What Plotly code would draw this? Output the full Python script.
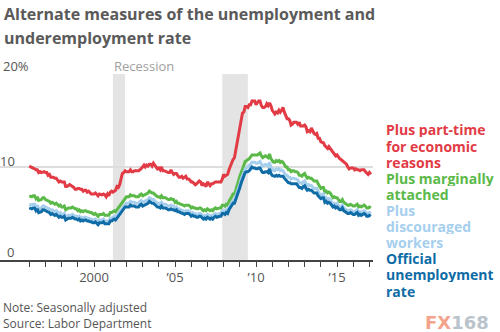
import pandas as pd
import plotly.graph_objects as go

# Monthly data, Jan 1996 - Feb 2017 (percent)
u6_part_time = [
    10.1, 10.0, 9.9, 9.8, 9.8, 9.7, 9.7, 9.4, 9.5, 9.4, 9.5, 9.5,
    9.4, 9.4, 9.1, 9.2, 8.9, 8.9, 8.9, 8.8, 8.8, 8.6, 8.4, 8.5,
    8.4, 8.4, 8.4, 7.9, 7.9, 8.0, 8.1, 8.0, 7.9, 7.8, 7.6, 7.6,
    7.7, 7.7, 7.6, 7.6, 7.4, 7.5, 7.5, 7.3, 7.4, 7.2, 7.1, 7.1,
    7.1, 7.2, 7.1, 6.9, 7.1, 7.0, 7.0, 7.1, 7.0, 6.8, 7.1, 6.9,
    7.3, 7.4, 7.3, 7.4, 7.5, 7.9, 7.8, 8.1, 8.7, 9.3, 9.4, 9.6,
    9.5, 9.5, 9.5, 9.7, 9.5, 9.5, 9.6, 9.6, 9.6, 9.6, 9.7, 9.8,
    10.0, 10.2, 10.0, 10.2, 10.1, 10.3, 10.3, 10.1, 10.4, 10.2, 10.0, 9.8,
    9.9, 9.7, 10.0, 9.6, 9.6, 9.5, 9.5, 9.4, 9.4, 9.7, 9.4, 9.2,
    9.3, 9.3, 9.1, 8.9, 8.9, 9.0, 8.8, 8.9, 9.0, 8.7, 8.7, 8.6,
    8.4, 8.4, 8.2, 8.1, 8.2, 8.4, 8.5, 8.4, 8.0, 8.2, 8.1, 7.9,
    8.4, 8.2, 8.0, 8.2, 8.2, 8.3, 8.4, 8.4, 8.4, 8.4, 8.4, 8.7,
    9.2, 9.0, 9.1, 9.2, 9.7, 10.1, 10.5, 10.8, 11.0, 11.8, 12.6, 13.6,
    14.2, 15.2, 15.8, 15.9, 16.5, 16.5, 16.4, 16.7, 16.7, 17.1, 17.1, 17.1,
    16.7, 17.0, 17.1, 17.1, 16.6, 16.4, 16.4, 16.5, 16.8, 16.6, 16.9, 16.6,
    16.1, 15.9, 15.7, 15.9, 15.8, 16.1, 15.9, 16.1, 16.4, 15.9, 15.5, 15.2,
    15.2, 15.0, 14.5, 14.6, 14.8, 14.8, 14.8, 14.6, 14.8, 14.4, 14.4, 14.4,
    14.5, 14.3, 13.8, 13.9, 13.8, 14.2, 13.9, 13.6, 13.5, 13.6, 13.1, 13.1,
    12.7, 12.6, 12.6, 12.3, 12.1, 12.0, 12.2, 12.0, 11.7, 11.5, 11.4, 11.2,
    11.3, 11.0, 10.9, 10.8, 10.7, 10.5, 10.4, 10.3, 10.0, 9.8, 9.9, 9.9,
    9.9, 9.7, 9.8, 9.7, 9.7, 9.6, 9.7, 9.7, 9.7, 9.5, 9.3, 9.2,
    9.4, 9.2,
]

u5_marginally = [
    6.9, 6.8, 6.8, 6.9, 6.9, 6.6, 6.8, 6.4, 6.5, 6.5, 6.7, 6.7,
    6.5, 6.4, 6.4, 6.3, 6.1, 6.2, 6.1, 6.0, 6.1, 5.9, 5.8, 5.9,
    5.7, 5.7, 5.8, 5.4, 5.5, 5.6, 5.6, 5.6, 5.7, 5.6, 5.5, 5.5,
    5.3, 5.4, 5.2, 5.3, 5.2, 5.3, 5.3, 5.2, 5.2, 5.1, 5.1, 5.0,
    4.9, 5.0, 4.9, 4.7, 4.9, 4.9, 4.9, 5.0, 4.8, 4.8, 4.8, 4.8,
    5.1, 5.1, 5.2, 5.3, 5.2, 5.4, 5.5, 5.8, 5.9, 6.2, 6.4, 6.6,
    6.8, 6.8, 6.8, 7.0, 6.9, 6.9, 6.9, 6.8, 6.8, 6.8, 7.0, 7.1,
    6.9, 7.0, 7.0, 7.1, 7.2, 7.4, 7.3, 7.2, 7.2, 7.1, 6.9, 6.8,
    6.8, 6.7, 6.9, 6.7, 6.7, 6.7, 6.6, 6.5, 6.5, 6.6, 6.5, 6.5,
    6.2, 6.3, 6.1, 6.1, 6.0, 5.9, 5.9, 5.8, 5.9, 5.9, 5.9, 5.8,
    5.6, 5.7, 5.6, 5.6, 5.5, 5.5, 5.6, 5.6, 5.4, 5.3, 5.4, 5.3,
    5.5, 5.4, 5.3, 5.4, 5.3, 5.5, 5.6, 5.5, 5.6, 5.6, 5.6, 5.9,
    5.9, 5.8, 6.0, 5.9, 6.3, 6.5, 6.8, 7.1, 7.1, 7.5, 7.9, 8.5,
    9.0, 9.5, 9.9, 10.2, 10.6, 10.7, 10.8, 10.9, 11.1, 11.3, 11.3, 11.3,
    11.3, 11.3, 11.4, 11.5, 11.2, 11.0, 11.1, 11.2, 11.1, 11.0, 11.4, 10.9,
    10.7, 10.5, 10.5, 10.7, 10.6, 10.7, 10.5, 10.6, 10.5, 10.3, 10.0, 10.0,
    9.7, 9.7, 9.5, 9.6, 9.6, 9.5, 9.5, 9.4, 9.1, 9.1, 9.0, 9.2,
    9.3, 9.0, 8.8, 8.9, 8.8, 8.8, 8.6, 8.5, 8.5, 8.5, 8.2, 7.9,
    7.7, 7.8, 7.8, 7.3, 7.4, 7.2, 7.3, 7.2, 6.9, 6.7, 6.8, 6.7,
    6.7, 6.5, 6.3, 6.3, 6.5, 6.2, 6.1, 6.0, 5.9, 5.9, 6.0, 5.9,
    5.8, 5.8, 5.9, 6.0, 5.7, 5.8, 5.7, 5.8, 5.9, 5.8, 5.6, 5.6,
    5.7, 5.6,
]

u4_discouraged = [
    6.0, 5.9, 5.9, 6.0, 6.0, 5.7, 5.9, 5.5, 5.6, 5.6, 5.8, 5.8,
    5.7, 5.6, 5.6, 5.5, 5.3, 5.4, 5.3, 5.2, 5.3, 5.1, 5.0, 5.1,
    4.9, 4.9, 5.0, 4.6, 4.7, 4.8, 4.8, 4.8, 4.9, 4.8, 4.7, 4.7,
    4.6, 4.7, 4.5, 4.6, 4.5, 4.6, 4.6, 4.5, 4.5, 4.4, 4.4, 4.3,
    4.3, 4.4, 4.3, 4.1, 4.3, 4.3, 4.3, 4.4, 4.2, 4.2, 4.2, 4.2,
    4.5, 4.5, 4.6, 4.7, 4.6, 4.8, 4.9, 5.2, 5.3, 5.6, 5.8, 6.0,
    6.1, 6.1, 6.1, 6.3, 6.2, 6.2, 6.2, 6.1, 6.1, 6.1, 6.3, 6.4,
    6.2, 6.3, 6.3, 6.4, 6.5, 6.7, 6.6, 6.5, 6.5, 6.4, 6.2, 6.1,
    6.1, 6.0, 6.2, 6.0, 6.0, 6.0, 5.9, 5.8, 5.8, 5.9, 5.8, 5.8,
    5.6, 5.7, 5.5, 5.5, 5.4, 5.3, 5.3, 5.2, 5.3, 5.3, 5.3, 5.2,
    5.0, 5.1, 5.0, 5.0, 4.9, 4.9, 5.0, 5.0, 4.8, 4.7, 4.8, 4.7,
    4.9, 4.8, 4.7, 4.8, 4.7, 4.9, 5.0, 4.9, 5.0, 5.0, 5.0, 5.3,
    5.3, 5.2, 5.4, 5.3, 5.7, 5.9, 6.1, 6.4, 6.4, 6.8, 7.2, 7.7,
    8.2, 8.7, 9.1, 9.4, 9.8, 9.9, 10.0, 10.1, 10.3, 10.5, 10.5, 10.5,
    10.4, 10.4, 10.5, 10.6, 10.3, 10.1, 10.2, 10.3, 10.2, 10.1, 10.5, 10.0,
    9.8, 9.6, 9.6, 9.8, 9.7, 9.8, 9.6, 9.7, 9.6, 9.4, 9.1, 9.1,
    8.9, 8.9, 8.7, 8.8, 8.8, 8.7, 8.7, 8.6, 8.3, 8.3, 8.2, 8.4,
    8.5, 8.2, 8.0, 8.1, 8.0, 8.0, 7.8, 7.7, 7.7, 7.7, 7.4, 7.1,
    7.0, 7.1, 7.1, 6.6, 6.7, 6.5, 6.6, 6.5, 6.2, 6.0, 6.1, 6.0,
    6.1, 5.9, 5.7, 5.7, 5.9, 5.6, 5.5, 5.4, 5.3, 5.3, 5.4, 5.3,
    5.2, 5.2, 5.3, 5.4, 5.1, 5.2, 5.1, 5.2, 5.3, 5.2, 5.0, 5.0,
    5.1, 5.0,
]

u3_official = [
    5.6, 5.5, 5.5, 5.6, 5.6, 5.3, 5.5, 5.1, 5.2, 5.2, 5.4, 5.4,
    5.3, 5.2, 5.2, 5.1, 4.9, 5.0, 4.9, 4.8, 4.9, 4.7, 4.6, 4.7,
    4.6, 4.6, 4.7, 4.3, 4.4, 4.5, 4.5, 4.5, 4.6, 4.5, 4.4, 4.4,
    4.3, 4.4, 4.2, 4.3, 4.2, 4.3, 4.3, 4.2, 4.2, 4.1, 4.1, 4.0,
    4.0, 4.1, 4.0, 3.8, 4.0, 4.0, 4.0, 4.1, 3.9, 3.9, 3.9, 3.9,
    4.2, 4.2, 4.3, 4.4, 4.3, 4.5, 4.6, 4.9, 5.0, 5.3, 5.5, 5.7,
    5.7, 5.7, 5.7, 5.9, 5.8, 5.8, 5.8, 5.7, 5.7, 5.7, 5.9, 6.0,
    5.8, 5.9, 5.9, 6.0, 6.1, 6.3, 6.2, 6.1, 6.1, 6.0, 5.8, 5.7,
    5.7, 5.6, 5.8, 5.6, 5.6, 5.6, 5.5, 5.4, 5.4, 5.5, 5.4, 5.4,
    5.3, 5.4, 5.2, 5.2, 5.1, 5.0, 5.0, 4.9, 5.0, 5.0, 5.0, 4.9,
    4.7, 4.8, 4.7, 4.7, 4.6, 4.6, 4.7, 4.7, 4.5, 4.4, 4.5, 4.4,
    4.6, 4.5, 4.4, 4.5, 4.4, 4.6, 4.7, 4.6, 4.7, 4.7, 4.7, 5.0,
    5.0, 4.9, 5.1, 5.0, 5.4, 5.6, 5.8, 6.1, 6.1, 6.5, 6.8, 7.3,
    7.8, 8.3, 8.7, 9.0, 9.4, 9.5, 9.5, 9.6, 9.8, 10.0, 9.9, 9.9,
    9.8, 9.8, 9.9, 9.9, 9.6, 9.4, 9.4, 9.5, 9.5, 9.4, 9.8, 9.3,
    9.1, 9.0, 9.0, 9.1, 9.0, 9.1, 9.0, 9.0, 9.0, 8.8, 8.6, 8.5,
    8.3, 8.3, 8.2, 8.2, 8.2, 8.2, 8.2, 8.0, 7.8, 7.8, 7.7, 7.9,
    8.0, 7.7, 7.5, 7.6, 7.5, 7.5, 7.3, 7.2, 7.2, 7.2, 6.9, 6.7,
    6.6, 6.7, 6.7, 6.2, 6.3, 6.1, 6.2, 6.1, 5.9, 5.7, 5.8, 5.6,
    5.7, 5.5, 5.4, 5.4, 5.6, 5.3, 5.2, 5.1, 5.0, 5.0, 5.1, 5.0,
    4.9, 4.9, 5.0, 5.1, 4.8, 4.9, 4.8, 4.9, 5.0, 4.9, 4.7, 4.7,
    4.8, 4.7,
]

dates = pd.date_range("1996-01-01", periods=len(u3_official), freq="MS")

recessions = [("2001-03-01", "2001-11-30"), ("2007-12-01", "2009-06-30")]

tick_years = list(range(1996, 2018))
tick_labels = {2000: "2000", 2005: "\u201905", 2010: "\u201910", 2015: "\u201915"}

series_labels = [
    ["Plus part-time", "for economic", "reasons"],
    ["Plus marginally", "attached"],
    ["Plus", "discouraged", "workers"],
    ["Official", "unemployment", "rate"],
]
colors = ["#e23b45", "#5ab948", "#a6cfee", "#0f6ca6"]
series = [u6_part_time, u5_marginally, u4_discouraged, u3_official]

title_lines = ["Alternate measures of the unemployment and", "underemployment rate"]
note_lines = ["Note: Seasonally adjusted", "Source: Labor Department"]

FONT = "Open Sans"
W, H = 500, 332
L, R, T, B = 0, 127, 74, 72
PW, PH = W - L - R, H - T - B


def px(x):
    return (x - L) / PW


def py(y):
    return (H - B - y) / PH


fig = go.Figure()

for vals, col in zip(series, colors):
    fig.add_trace(go.Scatter(x=dates, y=vals, mode="lines",
                             line=dict(color=col, width=3),
                             hoverinfo="skip", showlegend=False))

for s, e in recessions:
    fig.add_shape(type="rect", xref="x", yref="y", x0=s, x1=e, y0=0, y1=20,
                  fillcolor="#e4e4e4", line=dict(width=0), layer="below")

fig.update_layout(
    width=W, height=H,
    margin=dict(l=L, r=R, t=T, b=B),
    paper_bgcolor="white", plot_bgcolor="white",
    font=dict(family=FONT, color="#555555"),
    xaxis=dict(
        range=["1994-03-13", "2017-03-22"],
        tickvals=[f"{y}-01-01" for y in tick_years],
        ticktext=[tick_labels.get(y, "") for y in tick_years],
        ticks="outside", ticklen=5, tickwidth=1, tickcolor="#444",
        showline=True, linecolor="#444", linewidth=1.5,
        showgrid=False, zeroline=False,
        tickfont=dict(size=13, color="#555", family=FONT),
    ),
    yaxis=dict(
        range=[0, 20], tickvals=[10, 20], showticklabels=False,
        showgrid=True, gridcolor="#dddddd", gridwidth=1.5,
        zeroline=False, showline=False, ticks="",
    ),
)

ann = []
# title
for line, yc in zip(title_lines, [14, 38]):
    ann.append(dict(text=f"<b>{line}</b>", x=px(2), y=py(yc), xanchor="left",
                    yanchor="middle", font=dict(size=16, color="#5a5a5a", family=FONT)))
# y labels
ann.append(dict(text="20%", x=px(1), y=py(66), xanchor="left", yanchor="middle",
                font=dict(size=13, color="#555")))
ann.append(dict(text="10", x=px(17), y=py(161), xanchor="right", yanchor="middle",
                font=dict(size=13, color="#555")))
ann.append(dict(text="0", x=px(16), y=py(252), xanchor="right", yanchor="middle",
                font=dict(size=13, color="#555")))
ann.append(dict(text="Recession", x=px(144), y=py(66), xanchor="center", yanchor="middle",
                font=dict(size=13, color="#a0a0a0")))
# series labels, one line each
label_centers = [[129, 146, 162], [178, 194], [210, 226, 242], [258, 274, 291]]
for lines, col, ys in zip(series_labels, colors, label_centers):
    for line, yc in zip(lines, ys):
        ann.append(dict(text=f"<b>{line}</b>", x=px(385), y=py(yc), xanchor="left",
                        yanchor="middle", height=15, valign="middle", borderpad=0,
                        font=dict(size=14, color=col, family=FONT)))
# notes
for line, yc in zip(note_lines, [307, 323]):
    ann.append(dict(text=line, x=px(1), y=py(yc), xanchor="left", yanchor="middle",
                    font=dict(size=12, color="#555")))
# watermark
ann.append(dict(text="<b><span style='color:#f3a38c'>FX</span><span style='color:#b9c3cb'>168</span></b>",
                x=px(491), y=py(322), xanchor="right", yanchor="middle",
                font=dict(size=18, family="DejaVu Sans")))

for a in ann:
    a.update(xref="paper", yref="paper", showarrow=False)
fig.update_layout(annotations=ann)

fig.write_html("out.html")
